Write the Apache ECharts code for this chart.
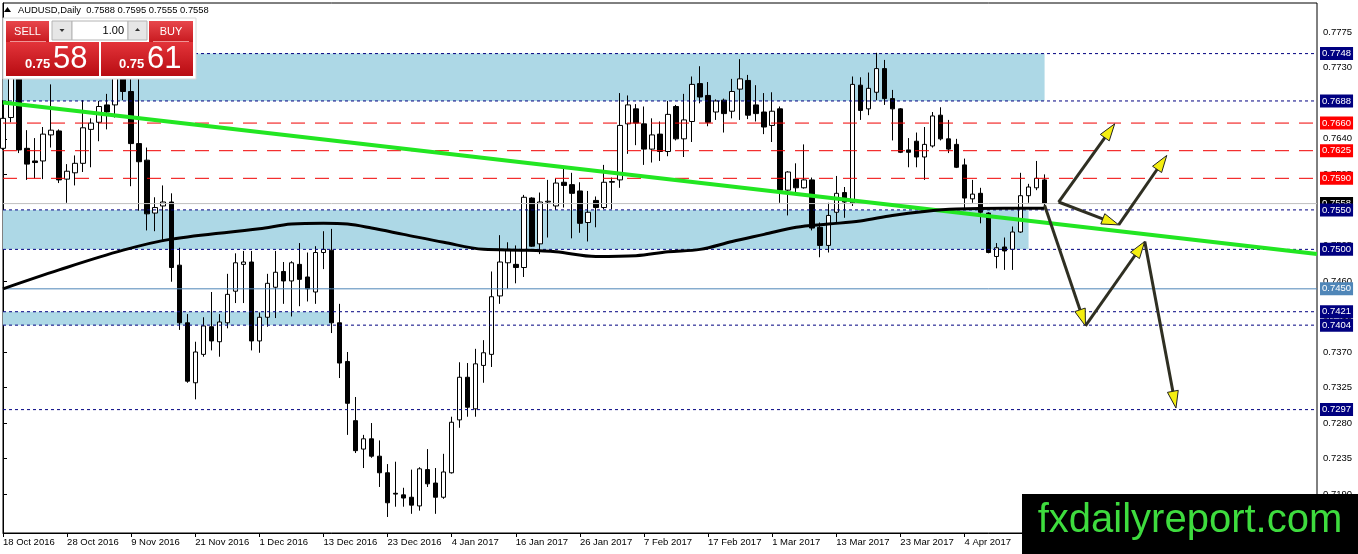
<!DOCTYPE html>
<html><head><meta charset="utf-8">
<script src="https://cdn.jsdelivr.net/npm/echarts@6/dist/echarts.min.js"></script>
<style>html,body{margin:0;padding:0;background:#fff}#c{width:1358px;height:554px}</style>
</head><body><div id="c"></div>
<script>
// ---------- data ----------
const symbolName = 'AUDUSD,Daily';
const lastOHLC = [0.7588, 0.7595, 0.7555, 0.7558];
const sellPrice = ['0.75', '58'];
const buyPrice = ['0.75', '61'];
const lotSize = '1.00';
const barCount = 131;      // real daily bars
const slotCount = 165;     // bars + empty future space
const monthNames = ['Jan','Feb','Mar','Apr','May','Jun','Jul','Aug','Sep','Oct','Nov','Dec'];
// [open, close, low, high]
const candles = [
 [0.7628,0.7666,0.7626,0.7689],[0.7667,0.7724,0.7661,0.7740],[0.7724,0.7626,0.7622,0.7733],[0.7628,0.7608,0.7588,0.7651],[0.7612,0.7610,0.7590,0.7641],
 [0.7612,0.7646,0.7589,0.7655],[0.7645,0.7651,0.7629,0.7709],[0.7650,0.7588,0.7584,0.7652],[0.7589,0.7599,0.7559,0.7608],[0.7597,0.7609,0.7581,0.7619],
 [0.7609,0.7654,0.7598,0.7689],[0.7652,0.7660,0.7604,0.7666],[0.7661,0.7681,0.7637,0.7688],[0.7683,0.7674,0.7652,0.7697],[0.7683,0.7717,0.7667,0.7727],
 [0.7717,0.7700,0.7689,0.7735],[0.7700,0.7634,0.7580,0.7745],[0.7634,0.7611,0.7549,0.7778],[0.7613,0.7545,0.7524,0.7629],[0.7546,0.7553,0.7523,0.7566],
 [0.7555,0.7560,0.7512,0.7581],[0.7560,0.7477,0.7459,0.7571],[0.7480,0.7407,0.7398,0.7502],[0.7407,0.7333,0.7331,0.7418],[0.7331,0.7370,0.7310,0.7383],
 [0.7367,0.7403,0.7364,0.7414],[0.7402,0.7384,0.7372,0.7446],[0.7383,0.7408,0.7364,0.7418],[0.7407,0.7443,0.7400,0.7469],[0.7447,0.7483,0.7432,0.7495],
 [0.7481,0.7484,0.7432,0.7498],[0.7484,0.7384,0.7372,0.7498],[0.7384,0.7414,0.7369,0.7420],[0.7414,0.7457,0.7402,0.7469],[0.7452,0.7471,0.7413,0.7498],
 [0.7472,0.7460,0.7431,0.7484],[0.7460,0.7483,0.7415,0.7485],[0.7481,0.7462,0.7428,0.7508],[0.7465,0.7450,0.7434,0.7496],[0.7446,0.7496,0.7431,0.7504],
 [0.7496,0.7500,0.7475,0.7523],[0.7499,0.7407,0.7394,0.7526],[0.7407,0.7356,0.7337,0.7431],[0.7358,0.7305,0.7265,0.7370],[0.7283,0.7245,0.7242,0.7313],
 [0.7247,0.7260,0.7223,0.7265],[0.7260,0.7238,0.7236,0.7280],[0.7238,0.7217,0.7199,0.7258],[0.7217,0.7179,0.7161,0.7228],[0.7191,0.7190,0.7174,0.7231],
 [0.7189,0.7185,0.7174,0.7198],[0.7186,0.7176,0.7165,0.7221],[0.7175,0.7222,0.7169,0.7224],[0.7221,0.7203,0.7199,0.7247],[0.7204,0.7186,0.7165,0.7223],
 [0.7186,0.7218,0.7184,0.7241],[0.7217,0.7281,0.7216,0.7288],[0.7284,0.7338,0.7274,0.7357],[0.7338,0.7300,0.7288,0.7356],[0.7298,0.7355,0.7288,0.7374],
 [0.7353,0.7369,0.7331,0.7385],[0.7367,0.7440,0.7351,0.7472],[0.7441,0.7484,0.7431,0.7518],[0.7483,0.7500,0.7450,0.7509],[0.7481,0.7477,0.7457,0.7505],
 [0.7477,0.7566,0.7465,0.7569],[0.7565,0.7504,0.7503,0.7566],[0.7507,0.7560,0.7494,0.7572],[0.7560,0.7561,0.7515,0.7588],[0.7555,0.7584,0.7550,0.7590],
 [0.7585,0.7581,0.7553,0.7603],[0.7582,0.7571,0.7514,0.7597],[0.7574,0.7533,0.7521,0.7585],[0.7534,0.7547,0.7510,0.7574],[0.7562,0.7553,0.7528,0.7567],
 [0.7553,0.7585,0.7551,0.7607],[0.7585,0.7586,0.7551,0.7591],[0.7588,0.7657,0.7578,0.7698],[0.7659,0.7683,0.7621,0.7695],[0.7678,0.7660,0.7632,0.7684],
 [0.7659,0.7627,0.7607,0.7681],[0.7627,0.7645,0.7610,0.7666],[0.7646,0.7624,0.7612,0.7662],[0.7624,0.7671,0.7618,0.7688],[0.7681,0.7640,0.7638,0.7683],
 [0.7640,0.7664,0.7617,0.7697],[0.7662,0.7709,0.7636,0.7719],[0.7710,0.7693,0.7685,0.7732],[0.7695,0.7661,0.7656,0.7712],[0.7674,0.7688,0.7664,0.7690],
 [0.7689,0.7672,0.7648,0.7691],[0.7675,0.7700,0.7666,0.7716],[0.7703,0.7716,0.7664,0.7741],[0.7714,0.7670,0.7665,0.7721],[0.7683,0.7672,0.7662,0.7708],
 [0.7674,0.7655,0.7646,0.7698],[0.7657,0.7675,0.7636,0.7699],[0.7678,0.7575,0.7559,0.7681],[0.7575,0.7598,0.7543,0.7599],[0.7589,0.7578,0.7572,0.7609],
 [0.7578,0.7588,0.7577,0.7633],[0.7588,0.7527,0.7524,0.7591],[0.7528,0.7505,0.7490,0.7534],[0.7505,0.7543,0.7496,0.7559],[0.7547,0.7571,0.7534,0.7593],
 [0.7572,0.7560,0.7540,0.7579],[0.7559,0.7709,0.7555,0.7719],[0.7708,0.7676,0.7664,0.7718],[0.7678,0.7704,0.7670,0.7724],[0.7699,0.7729,0.7689,0.7749],
 [0.7729,0.7691,0.7683,0.7740],[0.7691,0.7678,0.7638,0.7702],[0.7678,0.7623,0.7622,0.7679],[0.7626,0.7623,0.7604,0.7641],[0.7637,0.7617,0.7604,0.7648],
 [0.7617,0.7633,0.7588,0.7655],[0.7631,0.7669,0.7629,0.7674],[0.7670,0.7640,0.7638,0.7680],[0.7640,0.7627,0.7622,0.7664],[0.7633,0.7604,0.7603,0.7640],
 [0.7607,0.7565,0.7552,0.7615],[0.7564,0.7570,0.7559,0.7588],[0.7571,0.7547,0.7533,0.7578],[0.7546,0.7496,0.7495,0.7547],[0.7491,0.7502,0.7476,0.7508],
 [0.7503,0.7498,0.7474,0.7515],[0.7500,0.7522,0.7474,0.7529],[0.7522,0.7568,0.7521,0.7597],[0.7568,0.7579,0.7559,0.7583],[0.7578,0.7590,0.7575,0.7612],
 [0.7588,0.7558,0.7555,0.7595]
];
// moving average, read at sample bars
const maIndex = [0, 7, 15, 21, 32, 36, 40, 43, 46, 50, 55, 60, 65, 69, 74, 79, 83, 87, 91, 95, 99, 103, 107, 111, 115, 119, 125, 130];
const maValue = [0.7450,0.7474,0.7499,0.7513,0.7526,0.7532,0.7533,0.7532,0.7527,0.7519,0.7509,0.7500,0.7499,0.7497,0.7491,0.7492,0.7497,0.7500,0.7510,0.7519,0.7528,0.7532,0.7536,0.7543,0.7548,0.7551,0.7552,0.7552];
const yTicks = [0.7190,0.7235,0.7280,0.7325,0.7370,0.7415,0.7460,0.7505,0.7550,0.7595,0.7640,0.7685,0.7730,0.7775];
const yMin = 0.71407, yMax = 0.78121;
const navyLevelsTop = [0.7748, 0.7688];
const redLevels = [0.7660, 0.7625, 0.7590];
const bidLevel = 0.7558;
const navyLevelsMid = [0.7550, 0.7500];
const blueLevel = 0.7450;
const navyLevelsLow = [0.7421, 0.7404, 0.7297];
// zones: [fromBar, toBar, top, bottom]
const zones = [[0, 130, 0.7748, 0.7688], [0, 128, 0.7550, 0.7500], [0, 40.9, 0.7421, 0.7404]];
const trendLine = [[0, 0.7686], [164, 0.7494]];
// arrows: [fromBar, fromPrice, toBar, toPrice]
const arrows = [
 [131.75, 0.7560, 138.75, 0.7659],
 [131.75, 0.7560, 139.25, 0.7531],
 [139.25, 0.7531, 145.25, 0.7619],
 [130.0, 0.7556, 135.1, 0.7403],
 [135.1, 0.7403, 142.5, 0.7510],
 [142.5, 0.7510, 146.4, 0.7299]
];
const watermark = 'fxdailyreport.com';

// ---------- categories (weekday dates) ----------
const categories = [];
(function () {
  const d = new Date(Date.UTC(2016, 9, 18));
  while (categories.length < slotCount) {
    const wd = d.getUTCDay();
    if (wd !== 0 && wd !== 6) categories.push(d.getUTCDate() + ' ' + monthNames[d.getUTCMonth()] + ' ' + d.getUTCFullYear());
    d.setUTCDate(d.getUTCDate() + 1);
  }
})();

const FONT = 'Liberation Sans, Arial, sans-serif';
const NAVY = '#000080', RED = '#f00000';
// each horizontal level drawn as its own line series across the full value x-axis
function levelSeries(v, color, bg, type, z) {
  return {
    type: 'line', xAxisIndex: 1, yAxisIndex: 0, silent: true, symbol: 'none', z: z,
    data: [[0, v], [slotCount - 1, v]],
    lineStyle: { color: color, type: type, width: 1 },
    endLabel: { show: true, formatter: v.toFixed(4), color: '#fff', backgroundColor: bg, distance: 3,
      padding: [2, 2, 1, 2], fontSize: 9.5, fontFamily: FONT }
  };
}
const levelList = []
  .concat(navyLevelsTop.map(v => [v, NAVY, NAVY, [3, 3]]))
  .concat(redLevels.map(v => [v, RED, '#ff0000', [14, 10]]))
  .concat([[bidLevel, '#c0c0c0', '#000', 'solid']])
  .concat(navyLevelsMid.map(v => [v, NAVY, NAVY, [3, 3]]))
  .concat([[blueLevel, '#4f86b8', '#4f86b8', 'solid']])
  .concat(navyLevelsLow.map(v => [v, NAVY, NAVY, [3, 3]]));
const levelSeriesList = levelList.map((l, k) => levelSeries(l[0], l[1], l[2], l[3], 4 + k * 0.01));

const chart = echarts.init(document.getElementById('c'), null, { renderer: 'canvas' });
const G = echarts.graphic;
const redGrad = () => new G.LinearGradient(0, 0, 0, 1, [{ offset: 0, color: '#e3343a' }, { offset: 1, color: '#b80c12' }]);
const btnGrad = () => new G.LinearGradient(0, 0, 0, 1, [{ offset: 0, color: '#e8474c' }, { offset: 1, color: '#c81a20' }]);

const option = {
  animation: false,
  backgroundColor: '#fff',
  grid: { left: 3, top: 3, right: 41, bottom: 21, show: true, borderColor: '#000', borderWidth: 1, backgroundColor: '#fff' },
  xAxis: [{
    type: 'category', data: categories, boundaryGap: false,
    axisLine: { lineStyle: { color: '#000', width: 1 } },
    axisTick: { interval: 7, length: 4, lineStyle: { color: '#000' } },
    axisLabel: { interval: 7, align: 'left', margin: 4, fontSize: 9.5, color: '#000', fontFamily: FONT,
      formatter: (v, i) => (i < barCount ? v : '') },
    splitLine: { show: false }
  }, {
    type: 'value', min: 0, max: slotCount - 1, show: false
  }],
  yAxis: [{
    type: 'value', position: 'right', min: yMin, max: yMax, scale: true,
    axisLine: { show: true, lineStyle: { color: '#000' } },
    axisTick: { show: true, length: 4, customValues: yTicks, lineStyle: { color: '#000' } },
    axisLabel: { customValues: yTicks, formatter: v => v.toFixed(4), margin: 6, fontSize: 9.5, color: '#000', fontFamily: FONT },
    splitLine: { show: false }
  }],
  series: [{
    type: 'candlestick', name: 'AUDUSD', data: candles, xAxisIndex: 0, barWidth: 5, z: 2,
    itemStyle: { color: '#fff', color0: '#000', borderColor: '#000', borderColor0: '#000', borderColorDoji: '#000', borderWidth: 1 }
  }, {
    type: 'line', name: 'trend', xAxisIndex: 1, data: trendLine, symbol: 'none', z: 5,
    lineStyle: { color: '#22e622', width: 4 },
    markArea: { silent: true, itemStyle: { color: '#add8e6', opacity: 1 },
      data: zones.map(z => [{ coord: [z[0], z[2]] }, { coord: [z[1], z[3]] }]) }
  }, {
    type: 'line', name: 'MA', xAxisIndex: 1, data: maIndex.map((x, k) => [x, maValue[k]]), symbol: 'none', smooth: 0.35, z: 5,
    lineStyle: { color: '#000', width: 3 }
  }, {
    type: 'custom', name: 'arrows', xAxisIndex: 1, data: arrows, z: 6,
    encode: { x: [0, 2], y: [1, 3] },
    renderItem: function (params, api) {
      const a = api.coord([api.value(0), api.value(1)]);
      const b = api.coord([api.value(2), api.value(3)]);
      const dx = b[0] - a[0], dy = b[1] - a[1], len = Math.hypot(dx, dy);
      const ux = dx / len, uy = dy / len, hl = 17, hw = 5.5;
      const bx = b[0] - ux * hl, by = b[1] - uy * hl;
      return { type: 'group', children: [
        { type: 'line', shape: { x1: a[0], y1: a[1], x2: bx + ux * 2, y2: by + uy * 2 }, style: { stroke: '#2f2f22', lineWidth: 3 } },
        { type: 'polygon', shape: { points: [[b[0], b[1]], [bx - uy * hw, by + ux * hw], [bx + uy * hw, by - ux * hw]] },
          style: { fill: '#f4ee10', stroke: '#222', lineWidth: 1 } }
      ] };
    }
  }].concat(levelSeriesList),
  graphic: [
    // header
    { type: 'polygon', z: 100, shape: { points: [[4, 12], [11, 12], [7.5, 7]] }, style: { fill: '#000' } },
    { type: 'text', z: 100, x: 18, y: 10, style: { text: symbolName + '  ' + lastOHLC.map(v => v.toFixed(4)).join(' '), fill: '#000', fontSize: 9.4, fontFamily: FONT, verticalAlign: 'middle' } },
    // trade widget
    { type: 'rect', z: 100, shape: { x: 3, y: 18, width: 193, height: 61 }, style: { fill: '#fff', stroke: '#d8d8d8' } },
    { type: 'rect', z: 101, shape: { x: 6, y: 21, width: 43, height: 21 }, style: { fill: btnGrad() } },
    { type: 'text', z: 102, x: 27.5, y: 31.5, style: { text: 'SELL', fill: '#fff', fontSize: 11, fontFamily: FONT, align: 'center', verticalAlign: 'middle' } },
    { type: 'line', z: 102, shape: { x1: 10, y1: 41.5, x2: 46, y2: 41.5 }, style: { stroke: 'rgba(255,200,200,0.7)', lineWidth: 1 } },
    { type: 'rect', z: 101, shape: { x: 52, y: 21, width: 20, height: 19 }, style: { fill: '#e6e6e6', stroke: '#b4b4b4' } },
    { type: 'polygon', z: 102, shape: { points: [[59.5, 29], [64.5, 29], [62, 32]] }, style: { fill: '#333' } },
    { type: 'rect', z: 101, shape: { x: 72, y: 21, width: 56, height: 19 }, style: { fill: '#fff', stroke: '#b4b4b4' } },
    { type: 'text', z: 102, x: 124, y: 30.5, style: { text: lotSize, fill: '#000', fontSize: 11, fontFamily: FONT, align: 'right', verticalAlign: 'middle' } },
    { type: 'rect', z: 101, shape: { x: 128, y: 21, width: 19, height: 19 }, style: { fill: '#e6e6e6', stroke: '#b4b4b4' } },
    { type: 'polygon', z: 102, shape: { points: [[135, 31], [140, 31], [137.5, 28]] }, style: { fill: '#333' } },
    { type: 'rect', z: 101, shape: { x: 149, y: 21, width: 44, height: 21 }, style: { fill: btnGrad() } },
    { type: 'text', z: 102, x: 171, y: 31.5, style: { text: 'BUY', fill: '#fff', fontSize: 11, fontFamily: FONT, align: 'center', verticalAlign: 'middle' } },
    { type: 'line', z: 102, shape: { x1: 153, y1: 41.5, x2: 189, y2: 41.5 }, style: { stroke: 'rgba(255,200,200,0.7)', lineWidth: 1 } },
    { type: 'rect', z: 101, shape: { x: 6, y: 42, width: 93, height: 34 }, style: { fill: redGrad() } },
    { type: 'rect', z: 101, shape: { x: 101, y: 42, width: 92, height: 34 }, style: { fill: redGrad() } },
    { type: 'text', z: 102, x: 25, y: 64.5, style: { text: sellPrice[0], fill: '#fff', fontSize: 13, fontWeight: 'bold', fontFamily: FONT, verticalAlign: 'middle' } },
    { type: 'text', z: 102, x: 53, y: 59, style: { text: sellPrice[1], fill: '#fff', fontSize: 31, fontFamily: FONT, verticalAlign: 'middle' } },
    { type: 'text', z: 102, x: 119, y: 64.5, style: { text: buyPrice[0], fill: '#fff', fontSize: 13, fontWeight: 'bold', fontFamily: FONT, verticalAlign: 'middle' } },
    { type: 'text', z: 102, x: 147, y: 59, style: { text: buyPrice[1], fill: '#fff', fontSize: 31, fontFamily: FONT, verticalAlign: 'middle' } },
    // watermark
    { type: 'rect', z: 110, shape: { x: 1022, y: 494, width: 336, height: 60 }, style: { fill: '#000' } },
    { type: 'text', z: 111, x: 1190, y: 521, style: { text: watermark, fill: '#3edc3e', fontSize: 40, fontFamily: FONT, align: 'center', verticalAlign: 'middle' } }
  ]
};
chart.setOption(option);
</script>
</body></html>
